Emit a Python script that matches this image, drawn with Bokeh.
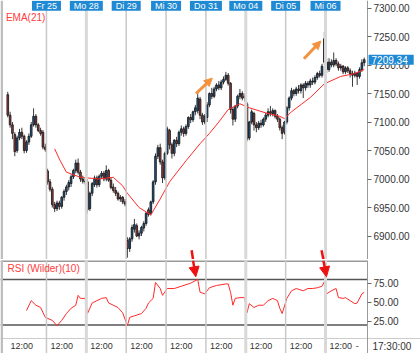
import numpy as np
from bokeh.plotting import figure
from bokeh.models import (ColumnDataSource, Range1d, FixedTicker, NumeralTickFormatter,
                          Span, Label, Arrow, NormalHead, BoxAnnotation)
from bokeh.layouts import column
from bokeh.embed import file_html
from bokeh.resources import INLINE

# ---------------- data (30-minute bars, 17 per session) ----------------
bars_per_day = 17
day_labels = ["Fr 25", "Mo 28", "Di 29", "Mi 30", "Do 31", "Mo 04", "Di 05", "Mi 06"]

open_ = [7148,7112,7095,7078,7050,7072,7082,7075,7050,7065,7075,7095,7110,7095,7085,7082,7056,
         7014,6995,6982,6955,6948,6958,6952,6968,6978,6986,6992,7004,7015,7028,7012,7000,6996,
         6995,6948,6975,6990,7002,6990,7005,7010,7000,7015,6998,6986,6980,6975,6965,6968,6960,
         6892,6878,6895,6912,6918,6900,6905,6914,6922,6946,6940,6960,6995,7040,7055,7030,7002,
         7045,7085,7060,7045,7068,7062,7082,7088,7080,7092,7108,7104,7118,7120,7140,7112,7100,
         7108,7130,7150,7145,7158,7165,7160,7170,7175,7182,7168,7122,7105,7128,7145,7150,7142,
         7132,7072,7100,7115,7095,7090,7098,7095,7105,7112,7118,7115,7120,7110,7105,7090,7082,
         7100,7125,7142,7155,7150,7158,7155,7165,7160,7168,7165,7172,7170,7178,7185,7182,7246,
         7205,7192,7205,7200,7208,7202,7195,7198,7188,7195,7190,7185,7182,7186,7180,7192,7204]
high = [7153,7118,7100,7082,7076,7088,7090,7078,7068,7080,7100,7124,7114,7098,7090,7086,7062,
        7018,7000,6986,6960,6962,6962,6970,6982,6990,6998,7008,7018,7034,7036,7016,7006,7002,
        7000,6978,6995,7006,7006,7008,7014,7014,7024,7018,7002,6992,6986,6978,6972,6970,6965,
        6898,6898,6920,6930,6922,6910,6918,6926,6942,6950,6962,6998,7045,7060,7062,7034,7048,
        7092,7088,7064,7070,7074,7085,7094,7092,7096,7110,7114,7120,7130,7152,7144,7116,7114,
        7135,7152,7160,7162,7168,7172,7174,7180,7188,7186,7170,7126,7130,7148,7158,7154,7150,
        7135,7102,7122,7118,7100,7102,7104,7108,7116,7124,7128,7124,7122,7114,7108,7094,7102,
        7128,7145,7160,7158,7162,7165,7168,7168,7172,7172,7176,7178,7182,7188,7190,7202,7258,
        7212,7212,7210,7222,7212,7206,7202,7200,7198,7198,7194,7190,7190,7188,7196,7210,7213]
low = [7108,7090,7070,7040,7046,7068,7070,7045,7046,7060,7072,7092,7090,7082,7076,7052,7048,
       6990,6978,6950,6942,6944,6946,6948,6962,6972,6980,6986,7000,7010,7008,6995,6992,6990,
       6940,6944,6970,6986,6985,6986,7000,6996,6996,6995,6982,6976,6970,6962,6960,6956,6952,
       6862,6872,6890,6906,6898,6894,6900,6908,6918,6934,6936,6956,6990,7035,7025,6993,6998,
       7042,7052,7036,7040,7056,7058,7076,7074,7076,7088,7098,7100,7112,7115,7105,7095,7096,
       7100,7126,7140,7142,7154,7156,7156,7166,7172,7164,7115,7094,7100,7124,7140,7138,7136,
       7066,7068,7096,7085,7082,7086,7090,7092,7100,7108,7110,7110,7106,7100,7085,7070,7078,
       7096,7120,7138,7145,7146,7150,7150,7142,7155,7160,7160,7165,7166,7174,7178,7178,7200,
       7186,7188,7196,7196,7198,7190,7190,7184,7184,7186,7178,7162,7178,7165,7176,7188,7198]
close = [7112,7095,7080,7048,7072,7082,7075,7050,7065,7075,7095,7110,7095,7085,7080,7056,7052,
         6995,6982,6955,6948,6958,6952,6968,6978,6986,6994,7004,7015,7028,7012,7000,6996,6995,
         6946,6975,6992,7002,6990,7005,7010,7000,7015,6998,6985,6980,6975,6965,6968,6960,6956,
         6878,6895,6915,6920,6900,6905,6915,6922,6940,6938,6960,6995,7040,7055,7030,7002,7045,
         7088,7060,7045,7068,7062,7082,7088,7080,7092,7108,7104,7118,7125,7142,7112,7100,7110,
         7130,7150,7145,7158,7165,7160,7170,7175,7182,7168,7122,7105,7128,7145,7150,7142,7145,
         7070,7100,7118,7095,7090,7098,7095,7105,7112,7118,7115,7120,7110,7105,7090,7080,7100,
         7125,7142,7155,7150,7158,7155,7165,7160,7168,7165,7172,7170,7178,7185,7182,7198,7205,
         7192,7205,7200,7208,7202,7195,7198,7188,7195,7190,7185,7182,7186,7180,7192,7204,7209.34]

ema_bar = [20,22,25,31,39,45,49,51,56,61,65,69,76,82,86,90,94,99,103,110,116,118,121,129,135,142,148,152]
ema_val = [7053,7035,7012,7003,7000,7003,6988,6975,6950,6937,6965,6995,7032,7062,7080,7100,7122,7132,
           7125,7116,7110,7106,7118,7143,7167,7180,7185,7192]

rsi_bar = [8,10,12,14,16,19,21,23,25,27,29,30,31,33,34,36,38,40,42,43,45,47,49,51,52,54,57,59,60,62,
           63,65,66,68,71,74,78,81,82,84,86,89,93,94,95,96,97,99,101,102,103,105,107,109,111,113,115,
           116,117,119,121,123,126,128,130,132,134,135,136,138,140,141,143,144,146,148,149,151,152]
rsi_val = [39,52,46,43,30,26,19,26,35,42,46,59,55,55,35,49,52,55,56,49,46,43,36,19,30,32,35,42,49,55,
           76,68,59,68,68,71,75,80,63,61,69,72,74,74,63,46,55,56,56,36,48,43,46,46,52,55,52,
           42,35,55,65,68,65,68,68,69,71,77,61,65,68,56,55,56,52,48,49,61,63]

price_ticks = [6900, 6950, 7000, 7050, 7100, 7150, 7200, 7250, 7300]
rsi_ticks = [25, 50, 75]
rsi_levels = [20, 80]
time_ticks = [6, 23, 40, 57, 74, 91, 108, 125, 142, 149]
time_labels = ["12:00", "12:00", "12:00", "12:00", "12:00", "12:00", "12:00", "12:00", "12:00", "-"]
last_price = 7209.34
last_time = "17:30:00"

# ---------------- styles / layout constants ----------------
FONT = "Liberation Sans"
UP = "#1f5a8e"
DOWN = "#9c3d3a"
BLUE_BOX = "#1f8ad3"
RED = "#ff2a2a"
ORANGE = "#f4913c"

X0 = -3.1        # left edge of the chart area
X_AXIS = 153.4   # where the price scale sits
X_END = 176.0    # right edge of the canvas (scale column included)
RSI_LO, RSI_HI = 2.2, 104.9
RSI_BOTTOM = -17.6
TIME_ROW = -9.0

XR = Range1d(X0, X_END)

def base(fig):
    fig.xgrid.visible = False
    fig.ygrid.visible = False
    fig.outline_line_color = None
    fig.background_fill_color = "white"
    fig.border_fill_color = "white"
    yax = fig.yaxis[0]
    yax.fixed_location = X_AXIS
    yax.major_label_text_font = FONT
    yax.major_label_text_font_size = "10px"
    yax.major_label_text_color = "#333333"
    yax.axis_line_color = "#9a9a9a"
    yax.major_tick_in = 0
    yax.major_tick_out = 4
    yax.major_tick_line_color = "#666666"
    yax.minor_tick_line_color = None
    yax.major_label_standoff = 2
    for d in range(1, len(day_labels) + 1):
        wide = day_labels[d - 1].startswith("Mo") or d == 8
        fig.add_layout(Span(location=d * bars_per_day - 0.5, dimension="height",
                            line_color="#d8d8d8" if wide else "#c8c8c8",
                            line_width=3 if wide else 1.5))
    fig.add_layout(BoxAnnotation(right=X0 + 1.05, fill_color="#bdbdbd", fill_alpha=1.0, line_color=None))

# ---------------- main price panel ----------------
p = figure(width=420, height=259, x_range=XR, y_range=Range1d(6858.8, 7313.2),
           y_axis_location="right", x_axis_location=None, toolbar_location=None,
           output_backend="svg", min_border_left=0, min_border_right=0,
           min_border_top=0, min_border_bottom=0)
base(p)
p.yaxis[0].ticker = FixedTicker(ticks=price_ticks)
p.yaxis[0].formatter = NumeralTickFormatter(format="0.00")

idx = np.arange(len(close))
o = np.array(open_, dtype=float)
c = np.array(close, dtype=float)
inc = c >= o
p.segment(x0=idx, y0=low, x1=idx, y1=high, line_color="#3a3a3a", line_width=1)
src_up = ColumnDataSource(dict(x=idx[inc], top=c[inc], bottom=o[inc]))
src_dn = ColumnDataSource(dict(x=idx[~inc], top=o[~inc], bottom=c[~inc]))
p.vbar(x="x", top="top", bottom="bottom", width=0.72, source=src_up,
       fill_color=UP, line_color="#111111", line_width=0.8)
p.vbar(x="x", top="top", bottom="bottom", width=0.72, source=src_dn,
       fill_color=DOWN, line_color="#111111", line_width=0.8)

p.line(ema_bar, ema_val, line_color=RED, line_width=1)

p.add_layout(Label(x=-0.8, y=7283.5, text="EMA(21)", text_font=FONT, text_font_size="10px",
                   text_color="#ff3b3b", text_baseline="middle"))

for d, lab in enumerate(day_labels, start=1):
    p.add_layout(Label(x=d * bars_per_day - 0.5, y=7303.8, text=lab, text_font=FONT,
                       text_font_size="9px", text_color="white", text_align="center",
                       text_baseline="middle", background_fill_color=BLUE_BOX,
                       padding=dict(left=4, right=4, top=0, bottom=0)))

# current price box on the price scale
p.add_layout(Label(x=X_AXIS + 0.45, y=last_price, text=f"{last_price:.2f}", text_font=FONT,
                   text_font_size="10px", text_color="white", text_align="left",
                   text_baseline="middle", background_fill_color=BLUE_BOX,
                   padding=dict(left=3, right=6, top=1, bottom=1)))

# orange arrows
p.add_layout(Arrow(x_start=80.3, y_start=7150, x_end=87.2, y_end=7177,
                   end=NormalHead(size=8, fill_color=ORANGE, line_color=ORANGE),
                   line_color=ORANGE, line_width=3))
p.add_layout(Arrow(x_start=126.3, y_start=7211, x_end=133.5, y_end=7242,
                   end=NormalHead(size=8, fill_color=ORANGE, line_color=ORANGE),
                   line_color=ORANGE, line_width=3))
p.add_layout(Arrow(x_start=78.4, y_start=6875, x_end=79.0, y_end=6858.8, end=None,
                   line_color="#ee1111", line_width=2.5))
p.add_layout(Arrow(x_start=133.8, y_start=6875, x_end=134.6, y_end=6858.8, end=None,
                   line_color="#ee1111", line_width=2.5))

# ---------------- RSI panel ----------------
r = figure(width=420, height=94, x_range=XR, y_range=Range1d(RSI_BOTTOM, RSI_HI),
           y_axis_location="right", toolbar_location=None, output_backend="svg",
           min_border_left=0, min_border_right=0, min_border_top=1, min_border_bottom=0)
base(r)
r.yaxis[0].ticker = FixedTicker(ticks=rsi_ticks)
r.yaxis[0].formatter = NumeralTickFormatter(format="0.00")
xax = r.xaxis[0]
xax.fixed_location = RSI_LO
xax.ticker = FixedTicker(ticks=time_ticks)
xax.major_label_overrides = {t: s for t, s in zip(time_ticks, time_labels)}
xax.major_label_text_font = FONT
xax.major_label_text_font_size = "9px"
xax.major_label_text_color = "#333333"
xax.axis_line_color = "#cccccc"
xax.major_tick_in = 0
xax.major_tick_out = 0
xax.minor_tick_line_color = None
xax.major_label_standoff = 3

r.segment(x0=X0, y0=RSI_HI - 0.5, x1=X_AXIS, y1=RSI_HI - 0.5, line_color="#777777", line_width=1.5)
for lv in rsi_levels:
    r.segment(x0=X0, y0=lv, x1=X_AXIS, y1=lv, line_color="#555555", line_width=1.5)
r.line(rsi_bar, rsi_val, line_color=RED, line_width=1)

r.add_layout(Label(x=-0.1, y=94, text="RSI (Wilder)(10)", text_font=FONT, text_font_size="10px",
                   text_color="#ff3b3b", text_baseline="middle"))
r.add_layout(Label(x=X_AXIS + 2.1, y=TIME_ROW, text=last_time, text_font=FONT,
                   text_font_size="10px", text_color="#333333", text_baseline="middle"))

r.add_layout(Arrow(x_start=79.0, y_start=RSI_HI, x_end=80.2, y_end=83.5,
                   end=NormalHead(size=10, fill_color="#ee1111", line_color="#ee1111"),
                   line_color="#ee1111", line_width=2.5))
r.add_layout(Arrow(x_start=134.6, y_start=RSI_HI, x_end=135.9, y_end=83.5,
                   end=NormalHead(size=10, fill_color="#ee1111", line_color="#ee1111"),
                   line_color="#ee1111", line_width=2.5))

layout = column(p, r, spacing=0)
open("out.html", "w").write(file_html(layout, INLINE))
